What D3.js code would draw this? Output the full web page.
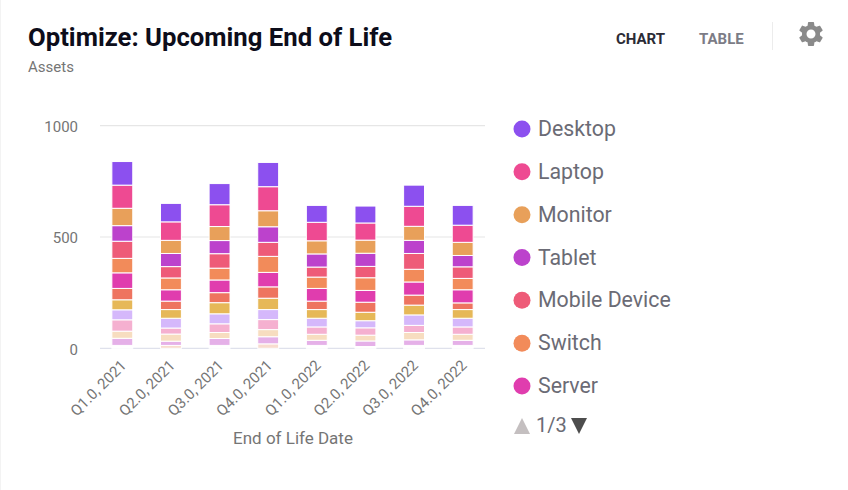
<!DOCTYPE html>
<html><head><meta charset="utf-8">
<script src="https://cdn.jsdelivr.net/npm/d3@7"></script>
<style>html,body{margin:0;background:#fff}svg{display:block;font-family:Roboto,sans-serif}</style>
</head><body><svg id="c" width="848" height="490"></svg>
<script>
const categories=["Q1.0, 2021","Q2.0, 2021","Q3.0, 2021","Q4.0, 2021","Q1.0, 2022","Q2.0, 2022","Q3.0, 2022","Q4.0, 2022"];
const legendNames=["Desktop","Laptop","Monitor","Tablet","Mobile Device","Switch","Server"];
const seriesNames=["Desktop","Laptop","Monitor","Tablet","Mobile Device","Switch","Server","Series 8","Series 9","Series 10","Series 11","Series 12","Series 13","Series 14","Series 15"];
const colors=["#8c50ef","#ee4a92","#e8a05a","#bc42cc","#ee5b78","#f28b5a","#e03dae","#ee7460","#e6b858","#d5b8fb","#f5b0d0","#f7ddc0","#e5b0e8","#f8dccf","#ffffff"];
const desktop=[106,83,95,109,76,76,95,89];
const laptop=[104,83,98,108,83,77,90,77];
const monitor=[78,59,63,72,59,59,63,59];
const tablet=[70,59,59,70,59,59,59,51];
const mobile=[77,51,65,63,45,51,71,52];
const switches=[65,53,53,72,51,57,57,51];
const server=[70,51,57,65,57,53,59,59];
const s8=[51,38,45,51,38,45,45,30];
const s9=[45,39,50,51,39,38,44,39];
const s10=[45,44,45,45,39,32,47,39];
const s11=[51,27,39,45,33,33,32,33];
const s12=[32,32,27,32,27,26,33,27];
const s13=[32,19,31,32,23,25,25,23];
const s14=[0,13,0,20,0,0,0,0];
const s15=[13,0,13,0,13,8,13,13];
const allSeries=[desktop,laptop,monitor,tablet,mobile,switches,server,s8,s9,s10,s11,s12,s13,s14,s15];
const yTicks=[0,500,1000];

const svg=d3.select("#c");
const x=d3.scaleBand().domain(categories).range([98,487]).paddingInner(0.57).paddingOuter(0.285);
const y=d3.scaleLinear().domain([0,1000]).range([348.3,125.7]);

svg.append("line").attr("x1",0.5).attr("x2",0.5).attr("y1",0).attr("y2",490).attr("stroke","#f3f3f3");

// gridlines
svg.append("g").selectAll("line").data(yTicks).join("line")
  .attr("x1",100).attr("x2",485).attr("y1",d=>y(d)).attr("y2",d=>y(d))
  .attr("stroke",d=>d===0?"#dfe1ec":"#e6e6e6").attr("stroke-width",1.2);

// y axis
const ya=svg.append("g").attr("transform","translate(78,1)")
  .call(d3.axisLeft(y).tickValues(yTicks).tickSize(0).tickPadding(0).tickFormat(d3.format("d")));
ya.select(".domain").remove();
ya.selectAll("text").attr("font-size",15).attr("fill","#757575").attr("font-family","Roboto");

// stacks
const rows=categories.map((c,i)=>{const o={cat:c};seriesNames.forEach((n,k)=>o[n]=allSeries[k][i]);return o;});
const stack=d3.stack().keys(seriesNames.slice().reverse())(rows);
svg.append("g").selectAll("g").data(stack).join("g")
  .attr("fill",d=>colors[seriesNames.indexOf(d.key)])
  .selectAll("rect").data(d=>d.filter(p=>p[1]>p[0])).join("rect")
  .attr("x",d=>x(d.data.cat)).attr("width",x.bandwidth())
  .attr("y",d=>y(d[1])).attr("height",d=>y(d[0])-y(d[1]))
  .attr("stroke","#fff").attr("stroke-width",1);

// x axis
const xa=svg.append("g").attr("transform","translate(0,348.3)")
  .call(d3.axisBottom(x).tickSize(0).tickPadding(0));
xa.select(".domain").remove();
xa.selectAll("text").attr("font-size",15).attr("fill","#757575").attr("font-family","Roboto")
  .attr("text-anchor","end").attr("dy",0)
  .attr("transform",d=>"translate(5,18) rotate(-45)");

svg.append("text").attr("x",293).attr("y",444).attr("text-anchor","middle").attr("font-size",17).attr("fill","#757575").text("End of Life Date");

// header
svg.append("text").attr("x",28).attr("y",46).attr("font-size",25.7).attr("font-weight",700).attr("fill","#0d0d1a").text("Optimize: Upcoming End of Life");
svg.append("text").attr("x",28).attr("y",72).attr("font-size",15).attr("fill","#757575").text("Assets");
svg.append("text").attr("x",616).attr("y",43.5).attr("font-size",15).attr("font-weight",700).attr("fill","#2b2b36").text("CHART");
svg.append("text").attr("x",699).attr("y",43.5).attr("font-size",15).attr("font-weight",700).attr("fill","#7c7c86").text("TABLE");
svg.append("line").attr("x1",772.5).attr("x2",772.5).attr("y1",22).attr("y2",50).attr("stroke","#ececec");
svg.append("path").attr("transform","translate(811,34) scale(1.25) translate(-12,-12)").attr("fill","#8a8a8a")
  .attr("d","M19.14 12.94c.04-.3.06-.61.06-.94 0-.32-.02-.64-.07-.94l2.03-1.58c.18-.14.23-.41.12-.61l-1.92-3.32c-.12-.22-.37-.29-.59-.22l-2.39.96c-.5-.38-1.03-.7-1.62-.94l-.36-2.54c-.04-.24-.24-.41-.48-.41h-3.84c-.24 0-.43.17-.47.41l-.36 2.54c-.59.24-1.13.57-1.62.94l-2.39-.96c-.22-.08-.47 0-.59.22L2.74 8.87c-.12.21-.08.47.12.61l2.03 1.58c-.05.3-.09.63-.09.94s.02.64.07.94l-2.03 1.58c-.18.14-.23.41-.12.61l1.92 3.32c.12.22.37.29.59.22l2.39-.96c.5.38 1.03.7 1.62.94l.36 2.54c.05.24.24.41.48.41h3.84c.24 0 .44-.17.47-.41l.36-2.54c.59-.24 1.13-.56 1.62-.94l2.39.96c.22.08.47 0 .59-.22l1.92-3.32c.12-.22.07-.47-.12-.61l-2.01-1.58zM12 15.6c-1.98 0-3.6-1.62-3.6-3.6s1.62-3.6 3.6-3.6 3.6 1.62 3.6 3.6-1.62 3.6-3.6 3.6z");

// legend
const ly=d3.scalePoint().domain(legendNames).range([129,386]);
const lg=svg.append("g").selectAll("g").data(legendNames).join("g").attr("transform",d=>`translate(522,${ly(d)})`);
lg.append("circle").attr("r",8.5).attr("fill",(d,i)=>colors[i]);
lg.append("text").attr("x",16).attr("y",7).attr("font-size",21.3).attr("fill","#6b6b75").text(d=>d);
svg.append("path").attr("d","M514,434L522,418L530,434Z").attr("fill","#c4bfc0");
svg.append("text").attr("x",536).attr("y",432).attr("font-size",20).attr("fill","#6b6b75").text("1/3");
svg.append("path").attr("d","M571,418L587,418L579,434Z").attr("fill","#4d4d4d");
</script></body></html>
